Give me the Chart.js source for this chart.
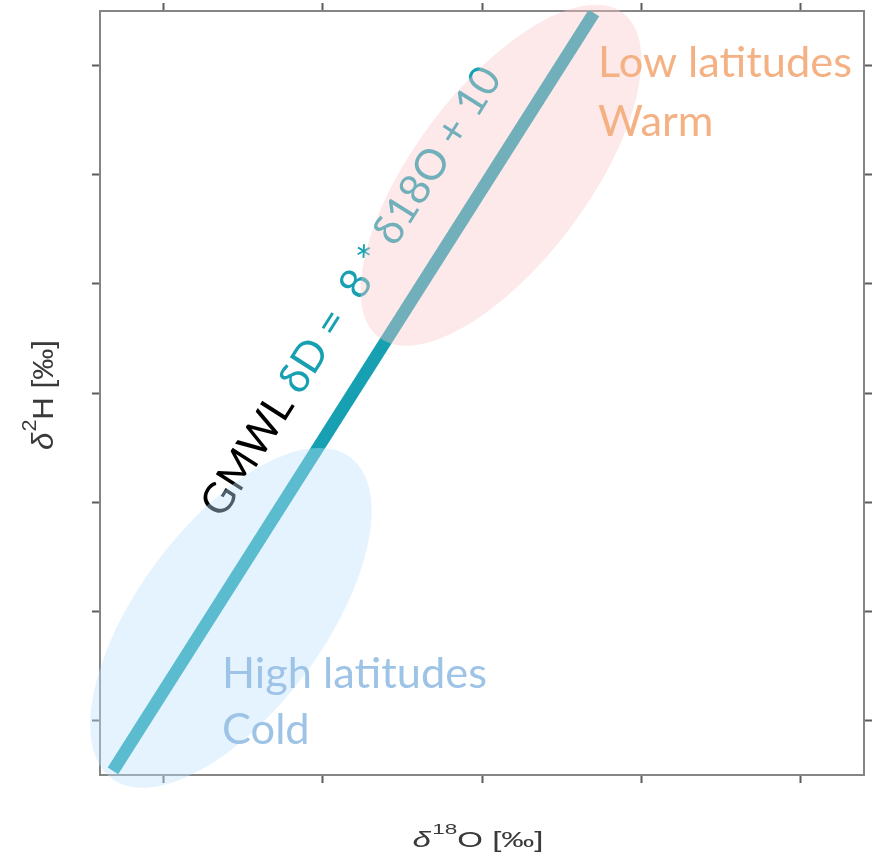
<!DOCTYPE html>
<html><head><meta charset="utf-8">
<script src="https://cdn.jsdelivr.net/npm/chart.js@4.4.1/dist/chart.umd.min.js"></script>
<style>html,body{margin:0;padding:0;background:#fff}#wrap{width:882px;height:859px;position:relative}</style>
</head><body><div id="wrap"><canvas id="c"></canvas></div>
<script>
// ---- data (abstract axis units; tick labels are not shown in the original) ----
const xTicks = [1, 2, 3, 4, 5];
const yTicks = [1, 2, 3, 4, 5, 6, 7];
const xRange = [0.605, 5.395];
const yRange = [0.5, 7.5];
// GMWL line end points
const gmwlX = [0.686, 3.702];
const gmwlY = [0.537, 7.482];
// climate regions (ellipse centres)
const regionNames = ['High latitudes', 'Low latitudes'];
const regionSub = ['Cold', 'Warm'];
const regionCX = [1.426, 3.119];
const regionCY = [1.940, 5.995];
const eqLead = 'GMWL';
const eqBody = 'δD =  8 * δ18O + 10';
const xTitle = ['δ', '18', 'O [‰]'];
const yTitle = ['δ', '2', 'H [‰]'];

// ---- styles / layout ----
const regionStyle = [
  {fill: 'rgba(189,225,250,0.41)', a: 200, b: 93, rot: -53.4, text: '#9DC3E6', lx: 1.370, ly: 1.298, gap: 56},
  {fill: 'rgba(250,200,200,0.40)', a: 203, b: 87, rot: -53.1, text: '#F4B183', lx: 3.727, ly: 6.894, gap: 59}
];
const TEAL = '#17a0b1';
const labelFam = "Lato, 'Open Sans', 'Noto Sans', sans-serif";
const axisFam = "'Liberation Sans', Arial, sans-serif";

function fitSize(ctx, text, width, fam, weight) {
  ctx.font = (weight || '') + ' 100px ' + fam;
  return 100 * width / ctx.measureText(text).width;
}

// draws δ^sup rest, centred at (0,0) baseline, stretched along the text to `len`
function drawRich(ctx, parts, size, supSize, rise, len) {
  const fonts = ['italic ' + size + 'px ' + axisFam, supSize + 'px ' + axisFam, size + 'px ' + axisFam];
  const rises = [0, -rise, 0];
  const gaps = [1, 0, 0];
  let w = 0;
  const ws = parts.map((t, i) => { ctx.font = fonts[i]; const m = ctx.measureText(t).width + gaps[i]; w += m; return m; });
  const sx = len / w;
  ctx.save();
  ctx.scale(sx, 1);
  let x = -w / 2;
  parts.forEach((t, i) => { ctx.font = fonts[i]; ctx.fillText(t, x, rises[i]); x += ws[i]; });
  ctx.restore();
}

const overlay = {
  id: 'overlay',
  afterDatasetsDraw(chart) {
    const {ctx} = chart;
    const x = chart.scales.x, y = chart.scales.y;
    ctx.save();
    // equation along the line
    const p0 = {x: x.getPixelForValue(gmwlX[0]), y: y.getPixelForValue(gmwlY[0])};
    const p1 = {x: x.getPixelForValue(gmwlX[1]), y: y.getPixelForValue(gmwlY[1])};
    const ang = Math.atan2(p1.y - p0.y, p1.x - p0.x);
    const dx = Math.cos(ang), dy = Math.sin(ang);
    const bx = p0.x + 271 * dx + 42 * dy, by = p0.y + 271 * dy - 42 * dx;
    const full = eqLead + ' ' + eqBody;
    const es = fitSize(ctx, full, 523, labelFam);
    ctx.font = es + 'px ' + labelFam;
    ctx.textBaseline = 'alphabetic';
    ctx.textAlign = 'left';
    ctx.translate(bx, by);
    ctx.rotate(ang);
    ctx.fillStyle = '#000';
    ctx.fillText(eqLead, 0, 0);
    const lw = ctx.measureText(eqLead + ' ').width;
    ctx.fillStyle = TEAL;
    ctx.fillText(eqBody, lw, 0);
    ctx.setTransform(1, 0, 0, 1, 0, 0);

    // ellipses
    regionCX.forEach((cxv, i) => {
      const s = regionStyle[i];
      ctx.beginPath();
      ctx.ellipse(x.getPixelForValue(cxv), y.getPixelForValue(regionCY[i]), s.a, s.b, s.rot * Math.PI / 180, 0, Math.PI * 2);
      ctx.fillStyle = s.fill;
      ctx.fill();
    });

    // region labels
    const ls = fitSize(ctx, regionNames[0], 265, labelFam);
    ctx.font = ls + 'px ' + labelFam;
    regionNames.forEach((n, i) => {
      const s = regionStyle[i];
      const lx = x.getPixelForValue(s.lx), ly = y.getPixelForValue(s.ly);
      ctx.fillStyle = s.text;
      ctx.fillText(n, lx, ly);
      ctx.fillText(regionSub[i], lx, ly + s.gap);
    });

    // axis titles
    ctx.fillStyle = '#3a3a3a';
    ctx.setTransform(1, 0, 0, 1, 478, 847);
    drawRich(ctx, xTitle, 22, 15, 13, 131);
    ctx.setTransform(1, 0, 0, 1, 53, 395);
    ctx.rotate(-Math.PI / 2);
    drawRich(ctx, yTitle, 29, 20, 17, 110);
    ctx.restore();
  }
};

function axis(pos, range, ticks, size) {
  const horiz = pos === 'top' || pos === 'bottom';
  return {
    type: 'linear', position: pos, display: true, min: range[0], max: range[1],
    ticks: {display: false},
    grid: {drawOnChartArea: false, drawTicks: true, tickLength: 8, tickWidth: 2, tickColor: '#5c5c5c'},
    border: {display: true, color: '#858585', width: 2},
    title: {display: false},
    afterBuildTicks: s => { s.ticks = ticks.map(v => ({value: v})); },
    afterFit: s => { if (horiz) s.height = size; else s.width = size; }
  };
}

new Chart(document.getElementById('c'), {
  type: 'scatter',
  data: {
    datasets: [
      {label: 'GMWL', data: gmwlX.map((v, i) => ({x: v, y: gmwlY[i]})), showLine: true,
       borderColor: TEAL, borderWidth: 12.5, pointRadius: 0, borderCapStyle: 'butt', xAxisID: 'x', yAxisID: 'y'}
    ]
  },
  options: {
    responsive: true, maintainAspectRatio: false, animation: false, devicePixelRatio: 1,
    layout: {padding: 0},
    plugins: {legend: {display: false}, tooltip: {enabled: false}},
    scales: {
      x: axis('bottom', xRange, xTicks, 84),
      x2: axis('top', xRange, xTicks, 11),
      y: axis('left', yRange, yTicks, 100),
      y2: axis('right', yRange, yTicks, 18)
    }
  },
  plugins: [overlay]
});
</script></body></html>
